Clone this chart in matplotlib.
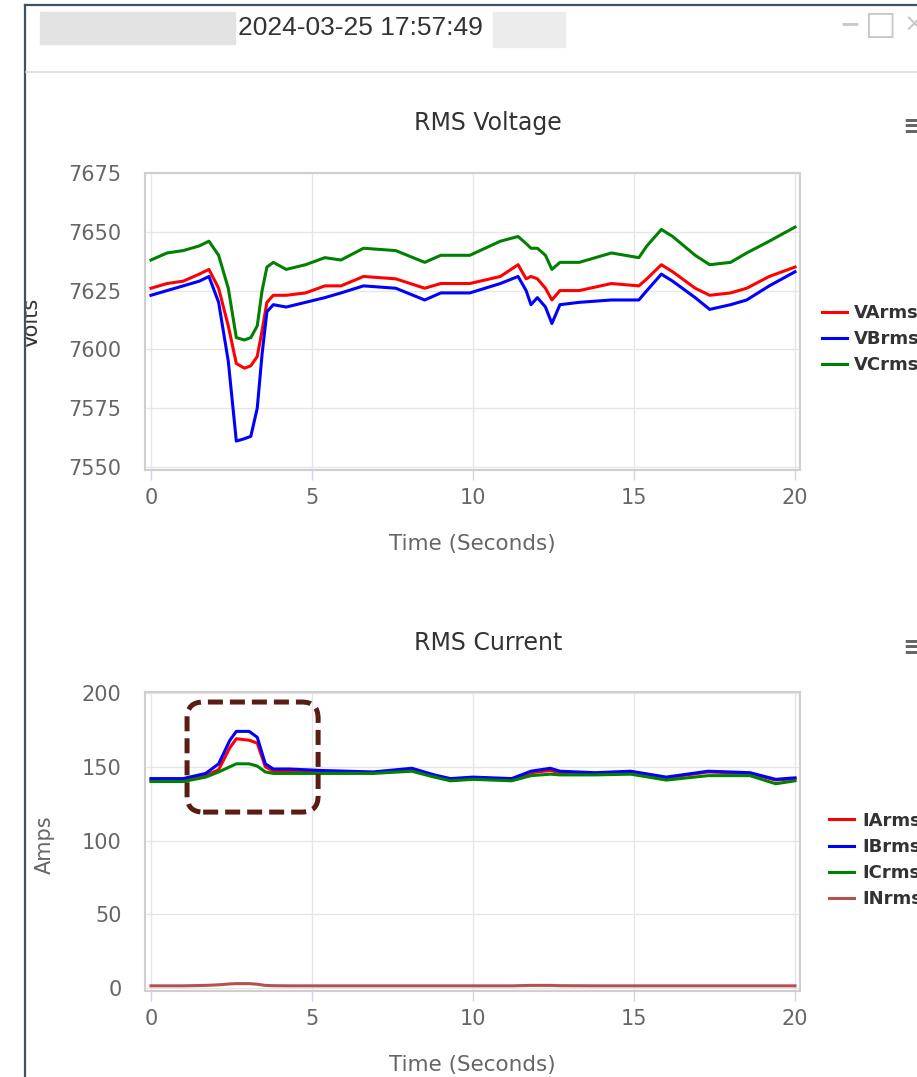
import matplotlib.pyplot as plt
from matplotlib.patches import Rectangle, FancyBboxPatch
from matplotlib.lines import Line2D
from matplotlib.transforms import IdentityTransform

# voltage readings (s, V)
t_v = [0, 0.5, 1.0, 1.5, 1.8, 2.1, 2.4, 2.65, 2.9, 3.1, 3.3, 3.45, 3.6, 3.8, 4.2, 4.8, 5.4,
       5.9, 6.6, 7.6, 8.5, 9.0, 9.9, 10.85, 11.4, 11.65, 11.8, 12.0, 12.25, 12.45, 12.7, 13.3,
       14.3, 15.15, 15.4, 15.85, 16.2, 16.9, 17.35, 18.0, 18.5, 19.2, 20.0]
va = [7626, 7628, 7629, 7632, 7634, 7626, 7610, 7594, 7592, 7593, 7597, 7608, 7620, 7623, 7623,
      7624, 7627, 7627, 7631, 7630, 7626, 7628, 7628, 7631, 7636, 7630, 7631, 7630, 7626, 7621,
      7625, 7625, 7628, 7627, 7630, 7636, 7633, 7626, 7623, 7624, 7626, 7631, 7635]
vb = [7623, 7625, 7627, 7629, 7631, 7620, 7595, 7561, 7562, 7563, 7575, 7598, 7616, 7619, 7618,
      7620, 7622, 7624, 7627, 7626, 7621, 7624, 7624, 7628, 7631, 7625, 7619, 7622, 7618, 7611,
      7619, 7620, 7621, 7621, 7625, 7632, 7629, 7622, 7617, 7619, 7621, 7627, 7633]
vc = [7638, 7641, 7642, 7644, 7646, 7640, 7626, 7605, 7604, 7605, 7610, 7625, 7635, 7637, 7634,
      7636, 7639, 7638, 7643, 7642, 7637, 7640, 7640, 7646, 7648, 7645, 7643, 7643, 7640, 7634,
      7637, 7637, 7641, 7639, 7644, 7651, 7648, 7640, 7636, 7637, 7641, 7646, 7652]

# current readings (s, A)
t_i = [0, 1.0, 1.7, 2.1, 2.45, 2.65, 3.05, 3.3, 3.55, 3.8, 4.3, 5.3, 6.9, 8.1, 8.8, 9.3, 10.0,
       11.2, 11.8, 12.4, 12.7, 13.8, 14.9, 16.0, 17.3, 18.6, 19.4, 20.0]
ia = [141, 141, 144, 148, 163, 169, 168, 166, 150, 147, 147.5, 146.5, 146, 148, 144, 141.5,
      142.5, 141.5, 146, 147.5, 146, 145.5, 146.5, 142.5, 146.5, 145.5, 141, 142]
ib = [142, 142, 145.5, 152, 168, 174, 174, 170, 152, 148.5, 148.5, 147.5, 146.5, 149, 144.5,
      142, 143, 142, 147, 149, 147, 146, 147, 143, 147, 146, 141.5, 142.5]
ic = [140, 140, 143, 146.5, 150, 152, 152, 150.5, 146.5, 145.5, 145.5, 145.5, 145.5, 147, 143,
      140.5, 141.5, 140.5, 144, 145, 144.5, 144.5, 145, 141, 144, 144, 138.5, 140.5]
i_n = [1.5, 1.5, 1.8, 2.2, 2.8, 3.0, 3.0, 2.6, 1.8, 1.6, 1.5, 1.5, 1.5, 1.5, 1.5, 1.5, 1.5,
       1.5, 1.8, 1.8, 1.6, 1.5, 1.5, 1.5, 1.5, 1.5, 1.5, 1.5]

W, H = 917, 1077
fig = plt.figure(figsize=(W / 100, H / 100), dpi=100)
fig.patch.set_facecolor('white')
px = IdentityTransform()


def fy(y):
    return 1 - y / H


def style(ax, ylim, yticks):
    ax.set_xlim(-0.186, 20.155)
    ax.set_ylim(*ylim)
    ax.set_xticks([0, 5, 10, 15, 20])
    ax.set_yticks(yticks)
    ax.grid(True, color='#e6e6e6', lw=1)
    ax.set_axisbelow(True)
    for s in ax.spines.values():
        s.set_color('#cfcfcf')
        s.set_linewidth(1.5)
    ax.tick_params(axis='x', length=7, width=1, color='#ccd6eb', pad=6,
                   labelsize=15, labelcolor='#666666')
    ax.tick_params(axis='y', length=0, pad=17, labelsize=15, labelcolor='#666666')
    ax.set_xlabel('Time (Seconds)', fontsize=15.5, color='#666666', labelpad=19)


leg_kw = dict(loc='center left', bbox_transform=fig.transFigure, frameon=False, borderpad=0,
              borderaxespad=0, handlelength=1.4, labelspacing=0.45,
              prop={'size': 13, 'weight': 'bold'}, labelcolor='#333333')

ax1 = fig.add_axes([145 / W, fy(470), 655 / W, 297 / H])
ax1.plot(t_v, va, color='#ff0000', lw=2.2, label='VArms')
ax1.plot(t_v, vb, color='#0000ff', lw=2.2, label='VBrms')
ax1.plot(t_v, vc, color='#008000', lw=2.2, label='VCrms')
style(ax1, (7548.7, 7675), [7550, 7575, 7600, 7625, 7650, 7675])
ax1.set_ylabel('Volts', fontsize=15, color='#333333')
ax1.yaxis.set_label_coords(-0.157, 0.495)
ax1.legend(bbox_to_anchor=(822 / W, fy(339)), handletextpad=0.35, **leg_kw)

ax2 = fig.add_axes([145 / W, fy(991), 655 / W, 299 / H])
ax2.plot(t_i, ia, color='#ff0000', lw=2.2, label='IArms')
ax2.plot(t_i, ib, color='#0000ff', lw=2.2, label='IBrms')
ax2.plot(t_i, ic, color='#008000', lw=2.2, label='ICrms')
ax2.plot(t_i, i_n, color='#b5514f', lw=2.2, label='INrms')
style(ax2, (-2, 200.7), [0, 50, 100, 150, 200])
ax2.set_ylabel('Amps', fontsize=15, color='#666666')
ax2.yaxis.set_label_coords(-0.137, 0.488)
ax2.legend(bbox_to_anchor=(829 / W, fy(860)), handletextpad=0.45, **leg_kw)

# dashed highlight around the current spike
box = FancyBboxPatch((1.12, 119.3), 4.07, 74.6, boxstyle='round,pad=0,rounding_size=0.5',
                     mutation_aspect=21.8, fill=False, ec='#5a1d14', lw=3.6,
                     linestyle=(0, (3, 1.4)), clip_on=False, zorder=5)
ax2.add_patch(box)

# chart titles and menu icons
fig.text(488 / W, fy(123), 'RMS Voltage', fontsize=17, color='#333333', ha='center', va='center')
fig.text(488 / W, fy(643), 'RMS Current', fontsize=17, color='#333333', ha='center', va='center')
for yy in (127, 648):
    fig.text(913 / W, fy(yy), '≡', fontsize=19, fontweight='bold', color='#666666',
             ha='center', va='center')

# window chrome
fig.add_artist(Rectangle((0, 0), 25, H, transform=px, color='white', zorder=3))
fig.add_artist(Rectangle((40, H - 44), 195, 32, transform=px, color='#e3e3e3', zorder=3))
fig.add_artist(Rectangle((493, H - 47), 72, 35, transform=px, color='#ececec', zorder=3))
fig.add_artist(Line2D([25, 25], [0, H - 5], transform=px, color='#3f5166', lw=1.6, zorder=4))
fig.add_artist(Line2D([25, W], [H - 5, H - 5], transform=px, color='#3f5166', lw=1.6, zorder=4))
fig.add_artist(Line2D([26, W], [H - 72, H - 72], transform=px, color='#dddddd', lw=1.2, zorder=4))
fig.text(238 / W, fy(28), '2024-03-25 17:57:49', fontsize=19, color='#333333',
         family='Liberation Sans', ha='left', va='center', zorder=5)
fig.text(850 / W, fy(24), '−', fontsize=18, fontweight='bold', color='#c8c8c8',
         ha='center', va='center')
fig.text(881 / W, fy(25), '□', fontsize=24, color='#c8c8c8', ha='center', va='center')
fig.text(914 / W, fy(25), '×', fontsize=18, color='#c8c8c8', ha='center', va='center')

fig.savefig('out.png', dpi=100)
